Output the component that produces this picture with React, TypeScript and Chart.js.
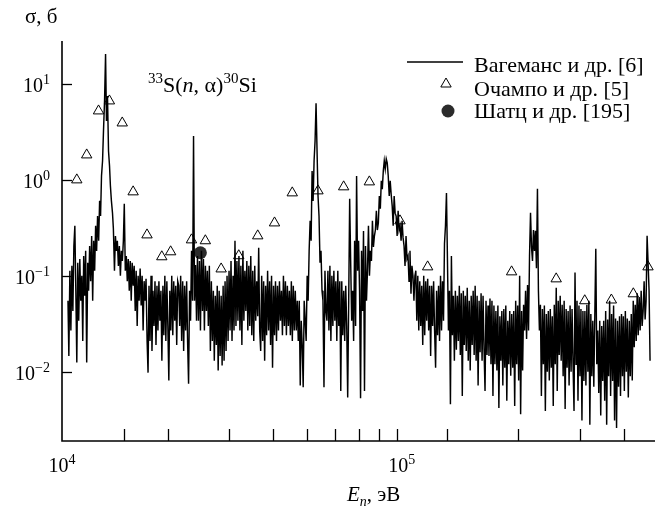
import React, { useEffect, useRef } from 'react';
import { Chart, registerables } from 'chart.js';

Chart.register(...registerables);

// Вагеманс и др. [6]: [energy, eV ; cross-section, b]
const wagemans: [number, number][] = [
  [10400, 0.055], [10460, 0.0146], [10530, 0.113], [10600, 0.027], [10670, 0.127], [10740, 0.043],
  [10810, 0.205], [10880, 0.332], [10950, 0.07], [11020, 0.0125], [11090, 0.137], [11160, 0.034],
  [11240, 0.15], [11310, 0.055], [11390, 0.1], [11460, 0.021], [11530, 0.161], [11610, 0.062],
  [11680, 0.182], [11760, 0.0125], [11840, 0.137], [11910, 0.07], [11990, 0.205], [12070, 0.088],
  [12150, 0.26], [12230, 0.055], [12310, 0.232], [12390, 0.113], [12470, 0.332], [12550, 0.182],
  [12630, 0.42], [12720, 0.232], [12800, 0.604], [12880, 0.42], [12960, 1.1], [13050, 1.58],
  [13130, 3.24], [13220, 6.6], [13310, 20.5], [13390, 4.1], [13480, 7.5], [13570, 2.0],
  [13660, 1.4], [13740, 0.866], [13830, 0.604], [13930, 0.45], [14010, 0.31], [14110, 0.113],
  [14200, 0.26], [14290, 0.182], [14380, 0.232], [14480, 0.127], [14570, 0.205], [14670, 0.1],
  [14760, 0.182], [14860, 0.143], [14960, 0.232], [15050, 0.562], [15150, 0.113], [15250, 0.161],
  [15350, 0.088], [15450, 0.15], [15550, 0.07], [15650, 0.143], [15750, 0.055], [15850, 0.137],
  [15960, 0.079], [16060, 0.127], [16170, 0.043], [16270, 0.113], [16380, 0.03], [16480, 0.1],
  [16590, 0.055], [16700, 0.119], [16810, 0.049], [16920, 0.1], [17030, 0.027], [17140, 0.088],
  [17250, 0.055], [17360, 0.093], [17480, 0.021], [17590, 0.0098],
  [17700, 0.079], [17820, 0.021], [17940, 0.1], [18050, 0.0165], [18170, 0.07], [18290, 0.03],
  [18410, 0.088], [18530, 0.019], [18650, 0.079], [18770, 0.027],
  [18890, 0.088], [19010, 0.034], [19140, 0.07], [19260, 0.013], [19390, 0.079], [19510, 0.024],
  [19640, 0.1], [19770, 0.021], [19900, 0.088], [20030, 0.03],
  [20160, 0.0081], [20290, 0.07], [20420, 0.027], [20550, 0.1], [20690, 0.024], [20820, 0.088],
  [20960, 0.034], [21100, 0.079], [21230, 0.019], [21370, 0.088],
  [21510, 0.079], [21650, 0.03], [21790, 0.1], [21930, 0.021], [22080, 0.088], [22220, 0.0165],
  [22360, 0.079], [22510, 0.027], [22660, 0.088], [22800, 0.021],
  [22950, 0.0075], [23100, 0.07], [23250, 0.034], [23400, 0.182], [23560, 0.055], [23710, 2.87],
  [23860, 0.055], [24020, 0.13], [24180, 0.034], [24330, 0.161],
  [24490, 0.034], [24650, 0.143], [24810, 0.027], [24970, 0.182], [25140, 0.043], [25300, 0.15],
  [25460, 0.027], [25630, 0.127], [25800, 0.043], [25960, 0.113],
  [26130, 0.03], [26300, 0.127], [26480, 0.0165], [26650, 0.088], [26820, 0.021], [27000, 0.07],
  [27170, 0.013], [27350, 0.062], [27530, 0.019], [27700, 0.079],
  [27870, 0.0103], [28050, 0.07], [28230, 0.0146], [28420, 0.062], [28600, 0.0116], [28790, 0.079],
  [28970, 0.013], [29160, 0.088], [29350, 0.0165], [29540, 0.1],
  [29740, 0.021], [29930, 0.113], [30130, 0.027], [30320, 0.143], [30520, 0.021], [30720, 0.1],
  [30920, 0.027], [31120, 0.232], [31320, 0.03], [31520, 0.143],
  [31730, 0.034], [31940, 0.161], [32150, 0.027], [32350, 0.127], [32560, 0.019], [32780, 0.182],
  [32990, 0.034], [33210, 0.113], [33420, 0.043], [33640, 0.143],
  [33860, 0.027], [34080, 0.127], [34300, 0.03], [34520, 0.161], [34750, 0.024], [34970, 0.113],
  [35200, 0.021], [35430, 0.127], [35660, 0.034], [35890, 0.088],
  [36130, 0.038], [36360, 0.196], [36600, 0.027], [36840, 0.0165], [37080, 0.1], [37320, 0.021],
  [37560, 0.088], [37810, 0.013], [38050, 0.079], [38300, 0.024],
  [38550, 0.113], [38800, 0.027], [39060, 0.088], [39310, 0.019], [39560, 0.1], [39820, 0.011],
  [40080, 0.079], [40340, 0.024], [40600, 0.088], [40870, 0.021],
  [41130, 0.079], [41400, 0.027], [41670, 0.088], [41940, 0.034], [42220, 0.07], [42490, 0.024],
  [42770, 0.1], [43050, 0.03], [43330, 0.088], [43610, 0.024],
  [43890, 0.079], [44180, 0.03], [44470, 0.07], [44760, 0.024], [45050, 0.088], [45340, 0.021],
  [45630, 0.079], [45930, 0.027], [46230, 0.07], [46530, 0.027],
  [46840, 0.055], [47140, 0.021], [47450, 0.055], [47760, 0.0072], [48070, 0.034], [48380, 0.019],
  [48690, 0.0069], [49010, 0.055], [49330, 0.034], [49650, 0.021],
  [49980, 0.1], [50300, 0.055], [50630, 0.182], [50960, 0.374], [51290, 0.232], [51620, 1.24],
  [51960, 0.604], [52300, 1.58], [52640, 2.55], [52980, 6.3],
  [53330, 2.0], [53670, 0.68], [54020, 0.42], [54380, 0.137], [54730, 0.182], [55090, 0.07],
  [55440, 0.055], [55810, 0.0069], [56170, 0.113], [56530, 0.043],
  [56900, 0.034], [57270, 0.113], [57650, 0.027], [58020, 0.127], [58400, 0.021], [58780, 0.1],
  [59160, 0.03], [59550, 0.113], [59930, 0.034], [60320, 0.088],
  [60720, 0.021], [61110, 0.113], [61510, 0.03], [61910, 0.088], [62310, 0.0063], [62720, 0.088],
  [63130, 0.024], [63540, 0.07], [63950, 0.021], [64370, 0.079],
  [64790, 0.03], [65210, 0.0054], [65640, 0.055], [66060, 0.634], [66490, 0.143], [66930, 0.034],
  [67360, 0.07], [67800, 0.021], [68240, 0.232], [68680, 0.03],
  [69130, 1.1], [69580, 0.113], [70040, 0.232], [70490, 0.07], [70950, 0.0053], [71410, 0.182],
  [71880, 0.043], [72340, 0.294], [72810, 0.0063], [73290, 0.205],
  [73770, 0.055], [74250, 0.113], [74730, 0.332], [75220, 0.1], [75710, 0.182], [76200, 0.143],
  [76700, 0.374], [77200, 0.2], [77700, 0.26], [78200, 0.3],
  [78710, 0.476], [79220, 0.3], [79740, 0.356], [80260, 0.68], [80780, 0.5], [81300, 0.976],
  [81830, 0.8], [82370, 1.24], [82900, 1.58], [83440, 1.3],
  [83990, 1.65], [84530, 1.5], [85080, 1.1], [85640, 0.68], [86190, 0.976], [86760, 0.7],
  [87320, 0.536], [87890, 0.332], [88460, 0.68], [89030, 0.45],
  [89620, 0.42], [90200, 0.26], [90790, 0.476], [91380, 0.3], [91970, 0.332], [92570, 0.232],
  [93180, 0.374], [93780, 0.25], [94390, 0.205], [95000, 0.127],
  [95630, 0.26], [96250, 0.15], [96880, 0.161], [97510, 0.088], [98140, 0.182], [98780, 0.065],
  [99420, 0.127], [100070, 0.1], [100720, 0.055], [101370, 0.1],
  [101970, 0.113], [102630, 0.034], [103300, 0.1], [103970, 0.027], [104650, 0.088], [105330, 0.03],
  [106010, 0.079], [106710, 0.019], [107400, 0.1], [108100, 0.024],
  [108800, 0.088], [109510, 0.034], [110230, 0.093], [110950, 0.027], [111660, 0.079], [112390, 0.0146],
  [113120, 0.079], [113860, 0.03], [114600, 0.088], [115340, 0.027],
  [116100, 0.011], [116850, 0.07], [117620, 0.024], [118390, 0.079], [119150, 0.021], [119930, 0.1],
  [120710, 0.027], [121500, 0.088], [122290, 0.034], [123080, 0.216],
  [123880, 0.332], [124690, 0.73], [125510, 0.143], [126320, 0.027], [127140, 0.07], [127970, 0.0046],
  [128800, 0.161], [129640, 0.024], [130490, 0.062], [131330, 0.013],
  [132190, 0.07], [133050, 0.017], [133920, 0.062], [134800, 0.021], [135670, 0.079], [136550, 0.015],
  [137440, 0.066], [138340, 0.0056], [139240, 0.07], [140140, 0.019],
  [141060, 0.062], [141970, 0.0165], [142900, 0.075], [143840, 0.013], [144770, 0.055], [145710, 0.0103],
  [146660, 0.062], [147610, 0.019], [148570, 0.07], [149540, 0.015],
  [150510, 0.079], [151490, 0.013], [152480, 0.062], [153470, 0.0072], [154470, 0.055], [155480, 0.016],
  [156490, 0.066], [157510, 0.013], [158530, 0.062], [159560, 0.017],
  [160600, 0.0063], [161640, 0.055], [162700, 0.015], [163760, 0.049], [164820, 0.0146], [165900, 0.058],
  [166980, 0.012], [168070, 0.055], [169160, 0.0056], [170250, 0.049],
  [171370, 0.012], [172480, 0.043], [173610, 0.0103], [174740, 0.049], [175880, 0.0042], [177030, 0.038],
  [178180, 0.013], [179340, 0.043], [180500, 0.0072], [181670, 0.045],
  [182860, 0.011], [184050, 0.049], [185260, 0.005], [186460, 0.034], [187670, 0.012], [188890, 0.043],
  [190120, 0.0091], [191360, 0.04], [192610, 0.011], [193850, 0.043],
  [195120, 0.0044], [196390, 0.055], [197680, 0.012], [198960, 0.049], [200250, 0.0081], [201560, 0.1],
  [202870, 0.0036], [204190, 0.043], [205520, 0.0103], [206850, 0.05],
  [208200, 0.027], [209550, 0.07], [210930, 0.022], [212300, 0.08], [213680, 0.027], [215070, 0.161],
  [216470, 0.453], [217880, 0.2], [219300, 0.143], [220710, 0.3],
  [222160, 0.182], [223600, 0.294], [225070, 0.12], [226540, 0.806], [228000, 0.07], [229490, 0.027],
  [230980, 0.05], [232490, 0.0056], [234000, 0.045], [235510, 0.012],
  [237060, 0.049], [238600, 0.0039], [240160, 0.04], [241730, 0.01], [243290, 0.043], [244880, 0.0081],
  [246470, 0.045], [248080, 0.011], [249690, 0.038], [251300, 0.0044],
  [252960, 0.05], [254600, 0.012], [256270, 0.075], [257940, 0.0063], [259610, 0.055], [261310, 0.015],
  [263000, 0.062], [264720, 0.013], [266440, 0.05], [268160, 0.009],
  [269920, 0.055], [271670, 0.0041], [273460, 0.045], [275230, 0.011], [277020, 0.043], [278830, 0.0072],
  [280640, 0.049], [282470, 0.01], [284310, 0.045], [286140, 0.012],
  [288010, 0.0039], [289880, 0.108], [291780, 0.012], [293680, 0.055], [295590, 0.005], [297510, 0.049],
  [299450, 0.009], [301400, 0.045], [303360, 0.0031], [305320, 0.043],
  [307320, 0.008], [309320, 0.043], [311350, 0.0072], [313370, 0.05], [315400, 0.01], [317460, 0.055],
  [319520, 0.0028], [321610, 0.04], [323700, 0.009], [325790, 0.034],
  [327930, 0.007], [330060, 0.038], [332230, 0.191], [334390, 0.012], [336550, 0.027], [338750, 0.006],
  [340950, 0.034], [343180, 0.0035], [345410, 0.03], [347640, 0.008],
  [349920, 0.034], [352190, 0.005], [354500, 0.043], [356810, 0.0028], [359120, 0.035], [361470, 0.009],
  [363820, 0.055], [366190, 0.0056], [368570, 0.04], [370950, 0.008],
  [373380, 0.049], [375810, 0.0031], [378270, 0.036], [380730, 0.0026], [383200, 0.034], [385700, 0.007],
  [388200, 0.038], [390740, 0.0056], [393280, 0.04], [395820, 0.009],
  [398110, 0.038], [400700, 0.0063], [403330, 0.043], [405950, 0.01], [408580, 0.036], [411250, 0.0054],
  [413920, 0.034], [416620, 0.009], [419320, 0.04], [422030, 0.0081],
  [424810, 0.055], [427570, 0.018], [430370, 0.05], [433180, 0.021], [435980, 0.066], [438830, 0.024],
  [441680, 0.06], [444560, 0.027], [447450, 0.07], [450340, 0.03],
  [453290, 0.043], [456240, 0.088], [459230, 0.035], [462220, 0.055], [465220, 0.261], [468250, 0.137],
  [471300, 0.07], [474370, 0.013],
];

// Очампо и др. [5]
const ochampoEnergy = [
  11020, 11760, 12710, 13650, 14850, 15950, 17470, 19250, 20400, 23390, 25620, 28420, 31900, 36130,
  40340, 45320, 53650, 63500, 75160, 91900, 110200, 191200, 256200, 309000, 368000, 425000, 468000,
];
const ochampoSigma = [
  1.0, 1.82, 5.23, 6.65, 3.92, 0.75, 0.267, 0.158, 0.178, 0.237, 0.232, 0.118, 0.162, 0.261,
  0.356, 0.732, 0.768, 0.846, 0.953, 0.374, 0.124, 0.11, 0.093, 0.055, 0.056, 0.065, 0.124,
];

// Шатц и др. [195]
const shatzEnergy = [24800];
const shatzSigma = [0.174];

const seriesNames = ['Вагеманс и др. [6]', 'Очампо и др. [5]', 'Шатц и др. [195]'];

const xAxisMin = 1e4;
const xAxisMax = 4.9e5;
const yAxisMin = 1.9e-3;
const yAxisMax = 28;

const xMinorTicks = [15000, 20000, 30000, 40000, 50000, 60000, 70000, 80000, 90000, 125000, 200000, 300000, 400000];
const xLabelValues = [1e4, 1e5];
const xLabelExps = ['4', '5'];
const yTickValues = [1e-2, 1e-1, 1, 10];
const yLabelExps = ['−2', '−1', '0', '1'];

const FONT = '"Liberation Serif", "Times New Roman", serif';

type Part = [string, 'n' | 'i' | 'sup' | 'sub' | 'isub'];

function drawRich(ctx: CanvasRenderingContext2D, parts: Part[], x: number, y: number, align: 'left' | 'center' | 'right', size: number) {
  const specs = parts.map(([t, k]) => {
    const small = k === 'sup' || k === 'sub' || k === 'isub';
    const fs = small ? Math.round(size * 0.68) : size;
    const italic = k === 'i' || k === 'isub';
    const font = `${italic ? 'italic ' : ''}${fs}px ${FONT}`;
    ctx.font = font;
    const w = ctx.measureText(t).width;
    const dy = k === 'sup' ? -size * 0.4 : small ? size * 0.25 : 0;
    return { t, font, w, dy };
  });
  const total = specs.reduce((a, s) => a + s.w, 0);
  let cx = align === 'center' ? x - total / 2 : align === 'right' ? x - total : x;
  ctx.textAlign = 'left';
  ctx.textBaseline = 'alphabetic';
  for (const s of specs) {
    ctx.font = s.font;
    ctx.fillText(s.t, cx, y + s.dy);
    cx += s.w;
  }
}

function triangle(ctx: CanvasRenderingContext2D, x: number, y: number, r: number) {
  ctx.beginPath();
  for (let k = 0; k < 3; k++) {
    const a = (k * 2 * Math.PI) / 3;
    const px = x + Math.sin(a) * r;
    const py = y - Math.cos(a) * r;
    if (k === 0) ctx.moveTo(px, py);
    else ctx.lineTo(px, py);
  }
  ctx.closePath();
  ctx.fillStyle = '#fff';
  ctx.fill();
  ctx.lineWidth = 1;
  ctx.strokeStyle = '#000';
  ctx.stroke();
}

const framePlugin = {
  id: 'frame',
  afterDraw(chart: any) {
    const ctx: CanvasRenderingContext2D = chart.ctx;
    const xs = chart.scales.x;
    const ys = chart.scales.y;
    const area = chart.chartArea;
    ctx.save();
    ctx.fillStyle = '#000';
    ctx.strokeStyle = '#000';

    // axes
    ctx.lineWidth = 1.6;
    ctx.beginPath();
    ctx.moveTo(area.left, area.top);
    ctx.lineTo(area.left, area.bottom);
    ctx.lineTo(area.right, area.bottom);
    ctx.stroke();

    // y ticks (inward)
    ctx.lineWidth = 1.3;
    yTickValues.forEach((v, i) => {
      const py = Math.round(ys.getPixelForValue(v)) + 0.5;
      ctx.beginPath();
      ctx.moveTo(area.left, py);
      ctx.lineTo(area.left + 10, py);
      ctx.stroke();
      drawRich(ctx, [['10', 'n'], [yLabelExps[i], 'sup']], area.left - 12, py + 7, 'right', 20);
    });

    // x ticks (inward)
    xMinorTicks.forEach((v) => {
      const px = Math.round(xs.getPixelForValue(v)) + 0.5;
      ctx.beginPath();
      ctx.moveTo(px, area.bottom);
      ctx.lineTo(px, area.bottom - 12);
      ctx.stroke();
    });
    xLabelValues.forEach((v, i) => {
      const px = xs.getPixelForValue(v) - (i === 1 ? 11 : 0);
      drawRich(ctx, [['10', 'n'], [xLabelExps[i], 'sup']], px, area.bottom + 31, 'center', 20);
    });

    // axis titles
    drawRich(ctx, [['σ, б', 'n']], 25, 23, 'left', 21);
    drawRich(ctx, [['E', 'i'], ['n', 'isub'], [', эВ', 'n']], 347, 501, 'left', 21);

    // reaction label
    drawRich(ctx, [['33', 'sup'], ['S(', 'n'], ['n', 'i'], [', α)', 'n'], ['30', 'sup'], ['Si', 'n']], 148, 92, 'left', 22);

    // legend
    ctx.lineWidth = 1.5;
    ctx.beginPath();
    ctx.moveTo(407, 62);
    ctx.lineTo(463, 62);
    ctx.stroke();
    triangle(ctx, 446, 84, 6);
    ctx.beginPath();
    ctx.arc(448, 111, 6.5, 0, Math.PI * 2);
    ctx.fillStyle = '#2b2b2b';
    ctx.fill();
    ctx.fillStyle = '#000';
    drawRich(ctx, [[seriesNames[0], 'n']], 474, 72, 'left', 22);
    drawRich(ctx, [[seriesNames[1], 'n']], 474, 96, 'left', 22);
    drawRich(ctx, [[seriesNames[2], 'n']], 474, 118, 'left', 22);
    ctx.restore();
  },
};

export default function App() {
  const ref = useRef<HTMLCanvasElement | null>(null);
  useEffect(() => {
    if (!ref.current) return;
    const chart = new Chart(ref.current, {
      type: 'scatter',
      data: {
        datasets: [
          {
            label: seriesNames[0],
            data: wagemans.map(([x, y]) => ({ x, y })),
            showLine: true,
            borderColor: '#000',
            borderWidth: 1.45,
            pointRadius: 0,
            tension: 0,
          } as any,
          {
            label: seriesNames[1],
            data: ochampoEnergy.map((x, i) => ({ x, y: ochampoSigma[i] })),
            pointStyle: 'triangle',
            pointRadius: 6,
            borderColor: '#000',
            borderWidth: 1,
            backgroundColor: '#fff',
          },
          {
            label: seriesNames[2],
            data: shatzEnergy.map((x, i) => ({ x, y: shatzSigma[i] })),
            pointStyle: 'circle',
            pointRadius: 6.5,
            borderColor: '#2b2b2b',
            borderWidth: 0,
            backgroundColor: '#2b2b2b',
          },
        ],
      },
      options: {
        animation: false,
        responsive: false,
        devicePixelRatio: 1,
        events: [],
        layout: { padding: { left: 62, top: 41, right: 0, bottom: 67 } },
        plugins: { legend: { display: false }, tooltip: { enabled: false } },
        scales: {
          x: { type: 'logarithmic', min: xAxisMin, max: xAxisMax, display: false },
          y: { type: 'logarithmic', min: yAxisMin, max: yAxisMax, display: false },
        },
      },
      plugins: [framePlugin],
    });
    return () => chart.destroy();
  }, []);
  return (
    <div style={{ position: 'absolute', left: 0, top: 0, width: 662, height: 508, background: '#fff' }}>
      <canvas ref={ref} width={662} height={508} style={{ display: 'block', width: 662, height: 508 }} />
    </div>
  );
}
